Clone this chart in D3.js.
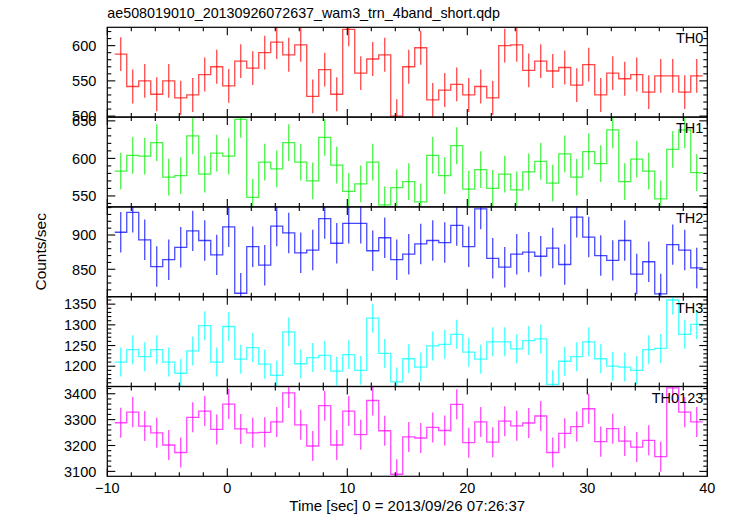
<!DOCTYPE html>
<html><head><meta charset="utf-8">
<script src="https://cdn.jsdelivr.net/npm/d3@7"></script>
<style>body{margin:0;background:#fff}text{font-family:"Liberation Sans",Arial,Helvetica,sans-serif;fill:#000}</style>
</head><body>
<script>
const title = "ae508019010_20130926072637_wam3_trn_4band_short.qdp";
const xLabel = "Time [sec] 0 = 2013/09/26 07:26:37";
const yLabel = "Counts/sec";
const xTickLabels = [-10, 0, 10, 20, 30, 40];
const binWidth = 1;
const times = [-8.88,-7.88,-6.88,-5.88,-4.88,-3.88,-2.88,-1.88,-0.88,0.12,1.12,2.12,3.12,4.12,5.12,6.12,7.12,8.12,9.12,10.12,11.12,12.12,13.12,14.12,15.12,16.12,17.12,18.12,19.12,20.12,21.12,22.12,23.12,24.12,25.12,26.12,27.12,28.12,29.12,30.12,31.12,32.12,33.12,34.12,35.12,36.12,37.12,38.12,39.12];

const bandNames = ["TH0", "TH1", "TH2", "TH3", "TH0123"];
const bandColors = ["#ff0000", "#00ee00", "#0000ff", "#00ffff", "#ff00ff"];
const th0 = [588,542,550,531,550,526,530,559,570,543,578,568,590,605,587,601,528,566,531,623,561,581,587,500,
  570,597,523,537,545,530,542,526,600,601,565,578,564,569,544,573,530,561,553,559,534,557,557,534,557];
const th1 = [583,604,603,621,575,577,630,579,607,603,652,548,595,586,621,595,570,628,591,556,566,595,538,561,
  569,542,604,577,617,559,585,560,579,558,582,596,567,606,575,609,593,638,569,599,583,546,612,638,581];
const th2 = [904,933,893,854,864,882,906,892,871,912,815,883,856,913,903,874,878,924,888,917,917,877,896,864,
  872,887,892,889,914,883,938,866,853,872,875,869,881,857,926,897,870,863,892,843,861,814,886,878,852];
const th3 = [1210,1240,1223,1240,1210,1183,1237,1298,1210,1296,1217,1245,1205,1178,1283,1206,1221,1226,1188,1228,1190,1316,1231,1162,
  1218,1198,1249,1253,1277,1234,1217,1259,1259,1242,1262,1266,1156,1212,1223,1259,1218,1200,1198,1190,1240,1243,1360,1277,1301];
const th0123 = [3288,3329,3275,3249,3202,3173,3309,3333,3262,3360,3264,3249,3251,3291,3403,3280,3198,3354,3202,3333,3242,3374,3257,3089,
  3233,3229,3270,3258,3359,3211,3291,3213,3294,3276,3287,3314,3173,3247,3273,3342,3215,3265,3217,3194,3220,3157,3423,3329,3291];
const bandErrors = [24, 24.5, 29.5, 35, 58];
const yDomains = [[498.6, 626], [535.4, 655], [810, 941], [1151, 1368], [3081, 3428]];
const yTickLabels = [[500, 550, 600], [550, 600, 650], [850, 900], [1200, 1250, 1300, 1350], [3100, 3200, 3300, 3400]];
const yMinorSteps = [10, 10, 10, 10, 20];
const series = [th0, th1, th2, th3, th0123];

const W = 729, H = 516;
const plotL = 107.3, plotR = 707.3, plotT = 27.3, panelH = 89.8;
const svg = d3.select("body").append("svg").attr("width", W).attr("height", H);
const x = d3.scaleLinear().domain([-10, 40]).range([plotL, plotR]);
const fs = "14.5px";

svg.append("text").attr("x", plotL).attr("y", 18).style("font-size", "14.3px").text(title);

series.forEach((vals, i) => {
  const y0 = plotT + i * panelH, y1 = y0 + panelH;
  const y = d3.scaleLinear().domain(yDomains[i]).range([y1, y0]);
  const g = svg.append("g");
  const clipId = "clip" + i;
  svg.append("clipPath").attr("id", clipId).append("rect")
    .attr("x", plotL).attr("y", y0).attr("width", plotR - plotL).attr("height", panelH);
  const data = times.map((t, k) => ({t, v: vals[k], e: bandErrors[i]}));
  const pts = data.map(d => [d.t - binWidth / 2, d.v]);
  pts.push([data[data.length - 1].t + binWidth / 2, data[data.length - 1].v]);
  const line = d3.line().x(d => x(d[0])).y(d => y(d[1])).curve(d3.curveStepAfter);
  const pg = g.append("g").attr("clip-path", `url(#${clipId})`)
    .attr("stroke", bandColors[i]).attr("stroke-opacity", 0.72).attr("fill", "none").attr("stroke-width", 1.3);
  pg.append("path").attr("d", line(pts));
  pg.selectAll("line.err").data(data).join("line").attr("class", "err")
    .attr("x1", d => x(d.t)).attr("x2", d => x(d.t))
    .attr("y1", d => y(d.v - d.e)).attr("y2", d => y(d.v + d.e));

  g.append("rect").attr("x", plotL).attr("y", y0).attr("width", plotR - plotL).attr("height", panelH)
    .attr("fill", "none").attr("stroke", "#000").attr("stroke-width", 1.2);
  const xt = d3.range(-10, 40.001, 2);
  xt.forEach(t => {
    const major = Math.abs(t % 10) < 1e-6;
    const len = major ? 8 : 4;
    g.append("line").attr("x1", x(t)).attr("x2", x(t)).attr("y1", y1).attr("y2", y1 - len).attr("stroke", "#000").attr("stroke-width", 1.1);
    g.append("line").attr("x1", x(t)).attr("x2", x(t)).attr("y1", y0).attr("y2", y0 + len).attr("stroke", "#000").attr("stroke-width", 1.1);
  });
  const st = yMinorSteps[i];
  const yt = d3.range(Math.ceil(yDomains[i][0] / st) * st, yDomains[i][1] + 1e-6, st);
  yt.forEach(v => {
    const major = Math.abs(v % 50) < 1e-6 && (i < 4 || Math.abs(v % 100) < 1e-6);
    const len = major ? 8 : 4;
    g.append("line").attr("x1", plotL).attr("x2", plotL + len).attr("y1", y(v)).attr("y2", y(v)).attr("stroke", "#000").attr("stroke-width", 1.1);
    g.append("line").attr("x1", plotR).attr("x2", plotR - len).attr("y1", y(v)).attr("y2", y(v)).attr("stroke", "#000").attr("stroke-width", 1.1);
  });
  yTickLabels[i].forEach(v => {
    g.append("text").attr("x", plotL - 11).attr("y", y(v)).attr("dy", "0.36em")
      .attr("text-anchor", "end").style("font-size", fs).text(v);
  });
  g.append("text").attr("x", plotR - 4).attr("y", y0 + 16).attr("text-anchor", "end")
    .style("font-size", "14.5px").text(bandNames[i]);
});

const plotB = plotT + 5 * panelH;
xTickLabels.forEach(t => {
  svg.append("text").attr("x", x(t)).attr("y", plotB + 17).attr("text-anchor", "middle")
    .style("font-size", fs).text(t < 0 ? "\u2212" + Math.abs(t) : t);
});
svg.append("text").attr("x", (plotL + plotR) / 2).attr("y", plotB + 35).attr("text-anchor", "middle")
  .style("font-size", "15px").text(xLabel);
svg.append("text").attr("transform", `translate(46,${plotT + 2.5 * panelH}) rotate(-90)`)
  .attr("text-anchor", "middle").style("font-size", "15.5px").text(yLabel);
</script>
</body></html>
